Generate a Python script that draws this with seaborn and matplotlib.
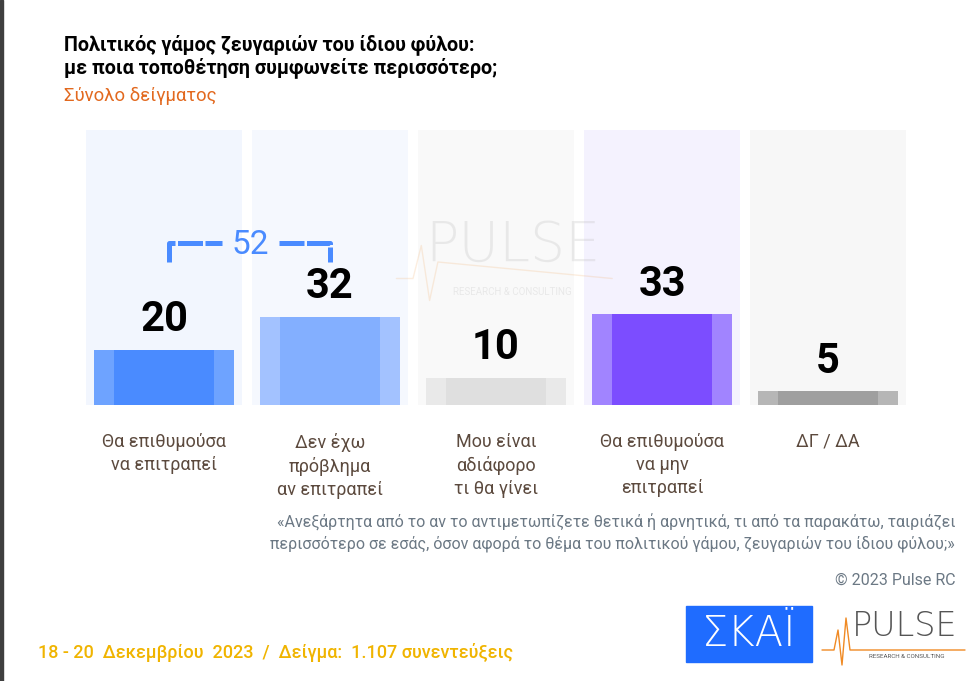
import pandas as pd
import matplotlib.pyplot as plt
import numpy as np
import seaborn as sns

# DATA
categories = ['Θα επιθυμούσα\nνα επιτραπεί', 'Δεν έχω\nπρόβλημα\nαν επιτραπεί',
              'Μου είναι\nαδιάφορο\nτι θα γίνει', 'Θα επιθυμούσα\nνα μην\nεπιτραπεί', 'ΔΓ / ΔΑ']
values = [20, 32, 10, 33, 5]
panel_full = [100, 100, 100, 100, 100]

# colours (outer strip / inner core / background panel)
outer_cols = ['#6ea3ff', '#a3c2ff', '#e9e9e9', '#a184ff', '#b6b6b6']
inner_cols = ['#4a8bff', '#83afff', '#dfdfdf', '#7c4dff', '#9f9f9f']
panel_cols = ['#f2f6fe', '#f5f8fe', '#f9f9f9', '#f4f2fe', '#f7f7f7']

sns.set_style('white')
plt.rcParams['font.family'] = ['Roboto', 'DejaVu Sans']

df = pd.DataFrame({'cat': categories, 'val': values, 'full': panel_full})

fig = plt.figure(figsize=(9.8, 6.81), dpi=100)
ax = fig.add_axes([81/980, 276/681, 830/980, 275/681])

sns.barplot(data=df, x='cat', y='full', hue='cat', palette=panel_cols, width=0.94,
            legend=False, ax=ax, saturation=1, linewidth=0)
sns.barplot(data=df, x='cat', y='val', hue='cat', palette=outer_cols, width=0.843,
            legend=False, ax=ax, saturation=1, linewidth=0)
sns.barplot(data=df, x='cat', y='val', hue='cat', palette=inner_cols, width=0.60,
            legend=False, ax=ax, saturation=1, linewidth=0)

ax.set_xlim(-0.5, len(categories) - 0.5)
ax.set_ylim(0, 100)
ax.set_xlabel('')
ax.set_ylabel('')
ax.set_yticks([])
sns.despine(ax=ax, left=True, bottom=True)
ax.tick_params(axis='x', length=0, pad=20)
ax.set_xticks(range(len(categories)))
ax.set_xticklabels(categories, fontsize=13, color='#5c4a3e', linespacing=1.35, va='top')

# value labels
for i, v in enumerate(values):
    ax.text(i, v + 3.5, f'{v}', ha='center', va='bottom', fontsize=30,
            fontweight='bold', color='black', zorder=5)

# bracket for the sum of the first two answers
blue = '#4a8bff'
by = values[1] + 27
ax.plot([0.03, 0.03, 0.35], [by - 7, by, by], color=blue, lw=3.6,
        linestyle=(0, (5, 0.5)), solid_capstyle='butt', dash_capstyle='butt', zorder=5)
ax.plot([0.69, 1.0, 1.0], [by, by, by - 7], color=blue, lw=3.6,
        linestyle=(0, (5, 0.5)), solid_capstyle='butt', dash_capstyle='butt', zorder=5)
ax.text(0.52, by - 1, f'{values[0] + values[1]}', ha='center', va='center',
        fontsize=24, color=blue, zorder=5)

# watermark
ax.text(2.1, 58, 'PULSE', ha='center', va='center', fontsize=40, color='#b0b0b0',
        alpha=0.22, family=['DejaVu Sans'], fontweight='light', zorder=4)
ax.text(2.1, 41, 'RESEARCH & CONSULTING', ha='center', va='center', fontsize=7,
        color='#b0b0b0', alpha=0.22, zorder=4)
ax.plot([1.4, 1.5, 1.55, 1.6, 1.65, 2.7], [46, 46, 58, 38, 52, 46],
        color='#f0a050', alpha=0.18, lw=1, zorder=4)

# titles
fig.text(64/980, 1 - 45/681, 'Πολιτικός γάμος ζευγαριών του ίδιου φύλου:', fontsize=14.2,
         fontweight='bold', color='black', va='center')
fig.text(64/980, 1 - 68/681, 'με ποια τοποθέτηση συμφωνείτε περισσότερο;', fontsize=14.2,
         fontweight='bold', color='black', va='center')
fig.text(64/980, 1 - 96/681, 'Σύνολο δείγματος', fontsize=13.3, color='#e2691f', va='center')

# question text
fig.text(955/980, 1 - 522/681,
         '«Ανεξάρτητα από το αν το αντιμετωπίζετε θετικά ή αρνητικά, τι από τα παρακάτω, ταιριάζει',
         fontsize=11.5, color='#6b7884', ha='right', va='center')
fig.text(955/980, 1 - 544/681,
         'περισσότερο σε εσάς, όσον αφορά το θέμα του πολιτικού γάμου, ζευγαριών του ίδιου φύλου;»',
         fontsize=11.5, color='#6b7884', ha='right', va='center')
fig.text(955/980, 1 - 580/681, '© 2023 Pulse RC', fontsize=11.5, color='#6b7884',
         ha='right', va='center')

# footer
fig.text(38/980, 1 - 652/681, '18 - 20  Δεκεμβρίου  2023  /  Δείγμα:  1.107 συνεντεύξεις',
         fontsize=13, fontweight='medium', color='#f0b400', va='center')

# logos
fig.patches.append(plt.Rectangle((686/980, 1 - 662/681), 126/980, 56/681,
                                 transform=fig.transFigure, color='#1f6cff', zorder=1))
fig.text(749/980, 1 - 634/681, 'ΣΚΑΪ', fontsize=30, color='white', ha='center',
         va='center', family=['DejaVu Sans'], fontweight='light', zorder=2)
fig.text(905/980, 1 - 627/681, 'PULSE', fontsize=24, color='#555555', ha='center',
         va='center', family=['DejaVu Sans'], fontweight='light')
fig.text(907/980, 1 - 656/681, 'RESEARCH & CONSULTING', fontsize=4.5, color='#555555',
         ha='center', va='center')
hx = np.array([822, 834, 838, 842, 846, 850, 965]) / 980
hy = 1 - np.array([650, 650, 630, 665, 618, 650, 650]) / 681
fig.lines.append(plt.Line2D(hx, hy, transform=fig.transFigure, color='#f08a24', lw=1))

# left border
fig.patches.append(plt.Rectangle((0, 0), 3/980, 1, transform=fig.transFigure,
                                 color='#3f3f3f', zorder=3))

fig.savefig('out.png', dpi=100)
